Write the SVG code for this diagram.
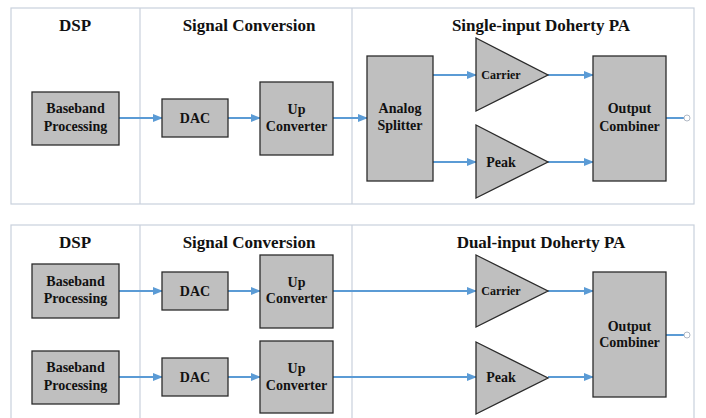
<svg xmlns="http://www.w3.org/2000/svg" width="706" height="418" viewBox="0 0 706 418">
<defs>
<style>
.panel{fill:#fff;stroke:#c9d1dc;stroke-width:1.2}
.div{stroke:#c9d1dc;stroke-width:1.2}
.box{fill:#bfbfbf;stroke:#2b2b2b;stroke-width:1.3}
.t{font-family:'Liberation Serif','DejaVu Serif','Times New Roman',Times,serif;font-weight:bold;fill:#111;text-anchor:middle}
.title{font-size:17px}
.lbl{font-size:14px}
.sm{font-size:12px}
.c{stroke:#5b9bd5;stroke-width:2;fill:none}
</style>
<marker id="ah" markerWidth="10" markerHeight="8" refX="9" refY="4" orient="auto" markerUnits="userSpaceOnUse">
<path d="M0,0 L10,4 L0,8 Z" fill="#5b9bd5"/>
</marker>
</defs>
<rect width="706" height="418" fill="#fff"/>
<g id="panel-top">
<rect class="panel" x="11" y="8" width="683" height="196"/>
<line class="div" x1="140" y1="8" x2="140" y2="204"/>
<line class="div" x1="352" y1="8" x2="352" y2="204"/>
<text class="t title" x="75" y="31">DSP</text>
<text class="t title" x="249" y="31">Signal Conversion</text>
<text class="t title" x="541" y="31">Single-input Doherty PA</text>
</g>
<g id="panel-bottom">
<rect class="panel" x="11" y="225" width="683" height="200"/>
<line class="div" x1="140" y1="225" x2="140" y2="418"/>
<line class="div" x1="352" y1="225" x2="352" y2="418"/>
<text class="t title" x="75" y="248">DSP</text>
<text class="t title" x="249" y="248">Signal Conversion</text>
<text class="t title" x="541" y="248">Dual-input Doherty PA</text>
</g>
<g id="connectors">
<line class="c" x1="119" y1="118" x2="162" y2="118" marker-end="url(#ah)"/>
<line class="c" x1="228" y1="118" x2="260" y2="118" marker-end="url(#ah)"/>
<line class="c" x1="333" y1="118" x2="367" y2="118" marker-end="url(#ah)"/>
<line class="c" x1="433" y1="75" x2="476" y2="75" marker-end="url(#ah)"/>
<line class="c" x1="433" y1="162" x2="476" y2="162" marker-end="url(#ah)"/>
<line class="c" x1="548" y1="75" x2="593" y2="75" marker-end="url(#ah)"/>
<line class="c" x1="548" y1="162" x2="593" y2="162" marker-end="url(#ah)"/>
<line class="c" x1="666" y1="118" x2="684" y2="118"/>
<circle cx="687" cy="118" r="3" fill="#fff" stroke="#b0b8c4" stroke-width="1"/>
<line class="c" x1="119" y1="291" x2="162" y2="291" marker-end="url(#ah)"/>
<line class="c" x1="228" y1="291" x2="260" y2="291" marker-end="url(#ah)"/>
<line class="c" x1="333" y1="291" x2="476" y2="291" marker-end="url(#ah)"/>
<line class="c" x1="548" y1="291" x2="593" y2="291" marker-end="url(#ah)"/>
<line class="c" x1="119" y1="377" x2="162" y2="377" marker-end="url(#ah)"/>
<line class="c" x1="228" y1="377" x2="260" y2="377" marker-end="url(#ah)"/>
<line class="c" x1="333" y1="377" x2="476" y2="377" marker-end="url(#ah)"/>
<line class="c" x1="548" y1="377" x2="593" y2="377" marker-end="url(#ah)"/>
<line class="c" x1="666" y1="335" x2="684" y2="335"/>
<circle cx="687" cy="335" r="3" fill="#fff" stroke="#b0b8c4" stroke-width="1"/>
</g>
<g id="bb-top">
<rect class="box" x="32" y="92" width="87" height="53"/>
<text class="t lbl" x="75.5" y="113">Baseband</text>
<text class="t lbl" x="75.5" y="131">Processing</text>
</g>
<g id="dac-top">
<rect class="box" x="162" y="99" width="66" height="38"/>
<text class="t lbl" x="195" y="123">DAC</text>
</g>
<g id="up-top">
<rect class="box" x="260" y="82" width="73" height="73"/>
<text class="t lbl" x="296.5" y="114">Up</text>
<text class="t lbl" x="296.5" y="131">Converter</text>
</g>
<g id="splitter">
<rect class="box" x="367" y="56" width="66" height="125"/>
<text class="t lbl" x="400" y="113">Analog</text>
<text class="t lbl" x="400" y="130">Splitter</text>
</g>
<g id="carrier-top">
<polygon class="box" points="476,38 548,75 476,111"/>
<text class="t sm" x="501" y="79">Carrier</text>
</g>
<g id="peak-top">
<polygon class="box" points="476,125 548,162 476,198"/>
<text class="t lbl" x="501" y="167">Peak</text>
</g>
<g id="combiner-top">
<rect class="box" x="593" y="56" width="73" height="125"/>
<text class="t lbl" x="629.5" y="113">Output</text>
<text class="t lbl" x="629.5" y="131">Combiner</text>
</g>
<g id="bb1">
<rect class="box" x="32" y="264" width="87" height="54"/>
<text class="t lbl" x="75.5" y="286">Baseband</text>
<text class="t lbl" x="75.5" y="303">Processing</text>
</g>
<g id="dac1">
<rect class="box" x="162" y="272" width="66" height="38"/>
<text class="t lbl" x="195" y="296">DAC</text>
</g>
<g id="up1">
<rect class="box" x="260" y="255" width="73" height="73"/>
<text class="t lbl" x="296.5" y="287">Up</text>
<text class="t lbl" x="296.5" y="303">Converter</text>
</g>
<g id="bb2">
<rect class="box" x="32" y="351" width="87" height="53"/>
<text class="t lbl" x="75.5" y="372">Baseband</text>
<text class="t lbl" x="75.5" y="390">Processing</text>
</g>
<g id="dac2">
<rect class="box" x="162" y="358" width="66" height="38"/>
<text class="t lbl" x="195" y="382">DAC</text>
</g>
<g id="up2">
<rect class="box" x="260" y="341" width="73" height="72"/>
<text class="t lbl" x="296.5" y="373">Up</text>
<text class="t lbl" x="296.5" y="390">Converter</text>
</g>
<g id="carrier-bot">
<polygon class="box" points="476,255 548,291 476,327"/>
<text class="t sm" x="501" y="295">Carrier</text>
</g>
<g id="peak-bot">
<polygon class="box" points="476,342 548,378 476,414"/>
<text class="t lbl" x="501" y="382">Peak</text>
</g>
<g id="combiner-bot">
<rect class="box" x="593" y="272" width="73" height="125"/>
<text class="t lbl" x="629.5" y="331">Output</text>
<text class="t lbl" x="629.5" y="347">Combiner</text>
</g>
</svg>
